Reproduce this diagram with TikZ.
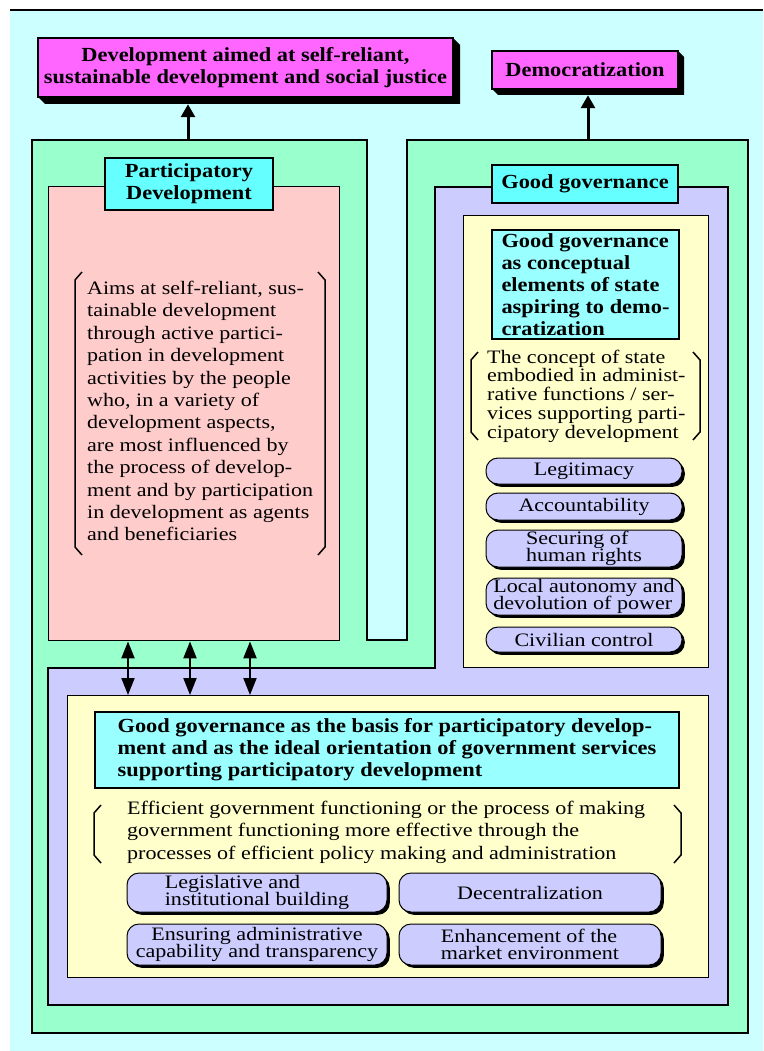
\documentclass[tikz,border=0pt]{standalone}
\usepackage{fontspec}
\setmainfont{Liberation Serif}
\newfontfamily\dfont[FakeStretch=1.16]{Liberation Serif}
\newfontfamily\hfont[FakeStretch=1.12]{Liberation Serif}
\usetikzlibrary{arrows.meta,shadows}

\definecolor{bgcyan}{HTML}{CCFFFF}
\definecolor{mintgreen}{HTML}{99FFCC}
\definecolor{rosepink}{HTML}{FFCCCC}
\definecolor{lavender}{HTML}{CCCCFF}
\definecolor{paleyellow}{HTML}{FFFFCC}
\definecolor{labelcyan}{HTML}{66FFFF}
\definecolor{boxcyan}{HTML}{99FFFF}
\definecolor{magentabox}{HTML}{FF66FF}

\tikzset{
  region/.style={draw=black, line width=1.4pt},
  plainbox/.style={region, inner sep=0pt, anchor=north west},
  headfont/.style={font=\hfont\bfseries\fontsize{20}{22}\selectfont},
  titlebox/.style={draw=black, line width=2.5pt, fill=magentabox, headfont,
    align=center, inner sep=0pt},
  labelbox/.style={draw=black, line width=2.8pt, fill=labelcyan, headfont,
    align=center, inner sep=0pt},
  infobox/.style={draw=black, line width=1.4pt, fill=boxcyan, headfont,
    align=left, inner sep=0pt},
  bodytext/.style={font=\dfont\fontsize{19}{22.4}\selectfont, align=left,
    inner sep=0pt, anchor=north west},
  pill/.style={draw=black, line width=1pt, fill=lavender, rounded corners=12pt,
    inner sep=0pt, font=\dfont\fontsize{19}{17.5}\selectfont,
    drop shadow={shadow xshift=2.8pt, shadow yshift=-2.8pt, fill=black, opacity=1}},
  brace/.style={draw=black, line width=1.5pt},
  uparrow/.style={line width=3pt, -{Triangle[width=14pt,length=13pt]}},
  twoway/.style={line width=2pt,
    {Triangle[width=13pt,length=17pt]}-{Triangle[width=13pt,length=17pt]}},
}

\begin{document}
\begin{tikzpicture}[x=1pt,y=-1pt]
\useasboundingbox (0,0) rectangle (763,1051);

% page background
\fill[bgcyan] (10,10) rectangle (763,1051);
\draw[line width=2pt] (10,10) -- (763,10);

% outer green frame with the notch between the two columns
\draw[region, fill=mintgreen] (32,140) -- (367,140) -- (367,640) -- (407,640)
  -- (407,140) -- (748,140) -- (748,1033) -- (32,1033) -- cycle;
\coordinate (greenL) at (188,140);
\coordinate (greenR) at (588,140);

% lavender L-shaped good governance area
\draw[region, fill=lavender] (435,187) -- (728,187) -- (728,1005) -- (48,1005)
  -- (48,668) -- (435,668) -- cycle;

% participatory development panel
\node[plainbox, fill=rosepink, minimum width=291pt, minimum height=454pt] (pd) at (48,186) {};
\node[labelbox, minimum width=168pt, minimum height=52pt] (pdlabel) at (189,184)
  {\fontsize{20}{19.5}\selectfont Participatory\\Development};

% right yellow panel
\node[plainbox, fill=paleyellow, minimum width=245pt, minimum height=452pt] (ry) at (463,215) {};
\node[labelbox, minimum width=186pt, minimum height=38pt] (gglabel) at (585,184) {Good governance};

% lower yellow panel
\node[plainbox, fill=paleyellow, minimum width=641pt, minimum height=282pt] (ly) at (67,695) {};

% goal boxes with their bevelled shadows
\fill[black] (453,38) -- (460,45) -- (460,104) -- (45,104) -- (38,97) -- cycle;
\node[titlebox, minimum width=415pt, minimum height=59pt] (goal) at (245.5,67.5)
  {Development aimed at self-reliant,\\sustainable development and social justice};
\fill[black] (678,51) -- (684,57) -- (684,95) -- (498,95) -- (492,89) -- cycle;
\node[titlebox, minimum width=186pt, minimum height=38pt] (demo) at (585,70) {Democratization};

\draw[uparrow, shorten >=6pt] (greenL) -- (greenL |- goal.south);
\draw[uparrow, shorten >=5pt] (greenR) -- (greenR |- demo.south);

% participatory development text
\node[bodytext] (pdtext) at (87,281) {Aims at self-reliant, sus-\\
tainable development\\
through active partici-\\
pation in development\\
activities by the people\\
who, in a variety of\\
development aspects,\\
are most influenced by\\
the process of develop-\\
ment and by participation\\
in development as agents\\
and beneficiaries};
\draw[brace] (82,272) -- (75,280) -- (75,547) -- (82,555);
\draw[brace] (318,272) -- (325,280) -- (325,547) -- (318,555);

% conceptual elements column
\node[infobox, minimum width=187pt, minimum height=109pt] (concept) at (585.5,284.5)
  {\fontsize{20}{18.7}\selectfont Good governance\\as conceptual\\elements of state\\aspiring to demo-\\cratization};
\node[bodytext, font=\dfont\fontsize{19}{18.75}\selectfont] (statetext) at (487,349.5)
  {The concept of state\\embodied in administ-\\rative functions / ser-\\vices supporting parti-\\cipatory development};
\draw[brace] (478,352) -- (471,360) -- (471,432) -- (478,440);
\draw[brace] (693,352) -- (700,360) -- (700,432) -- (693,440);

\node[pill, minimum width=196pt, minimum height=26pt] (p1) at (584,471) {Legitimacy};
\node[pill, minimum width=196pt, minimum height=27pt] (p2) at (584,506.5) {Accountability};
\node[pill, minimum width=196pt, minimum height=37pt, align=left] (p3) at (584,548.5) {Securing of\\human rights};
\node[pill, minimum width=196pt, minimum height=37pt, align=left] (p4) at (584,596.5) {Local autonomy and\\devolution of power};
\node[pill, minimum width=196pt, minimum height=25pt] (p5) at (584,639.5) {Civilian control};

% basis for participatory development
\node[infobox, minimum width=584pt, minimum height=76pt] (basis) at (387,750)
  {Good governance as the basis for participatory develop-\\
ment and as the ideal orientation of government services\\
supporting participatory development};
\node[bodytext] (efftext) at (127,801)
  {Efficient government functioning or the process of making\\
government functioning more effective through the\\
processes of efficient policy making and administration};
\draw[brace] (101,805) -- (94,813) -- (94,855) -- (101,863);
\draw[brace] (674,805) -- (681,813) -- (681,855) -- (674,863);

\node[pill, minimum width=260pt, minimum height=39pt, align=left] (q1) at (257,892.5) {Legislative and\\institutional building};
\node[pill, minimum width=262pt, minimum height=39pt] (q2) at (530,892.5) {Decentralization};
\node[pill, minimum width=260pt, minimum height=41pt, align=center] (q3) at (257,944.5) {Ensuring administrative\\capability and transparency};
\node[pill, minimum width=262pt, minimum height=41pt, align=left] (q4) at (530,944.5) {Enhancement of the\\market environment};

% two-way links between the panels
\coordinate (a1) at (128,0);
\coordinate (a2) at (190,0);
\coordinate (a3) at (250,0);
\draw[twoway] (pd.south -| a1) -- (ly.north -| a1);
\draw[twoway] (pd.south -| a2) -- (ly.north -| a2);
\draw[twoway] (pd.south -| a3) -- (ly.north -| a3);
\end{tikzpicture}
\end{document}
